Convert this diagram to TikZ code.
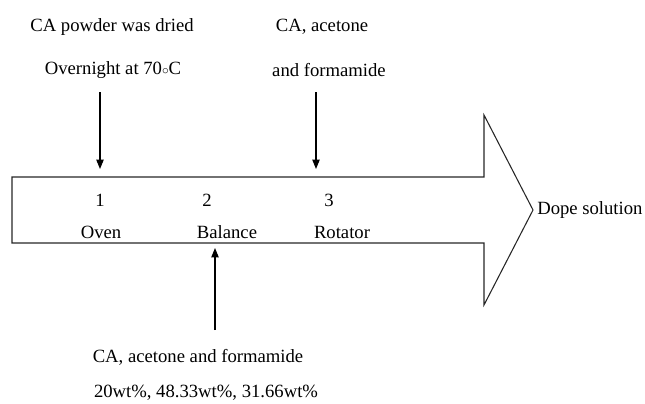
\documentclass[tikz,border=0pt]{standalone}
\usepackage{fontspec}
\setmainfont{Liberation Serif}
\usetikzlibrary{arrows.meta}
\tikzset{
  lbl/.style={font=\fontsize{14}{16}\selectfont, inner sep=0pt},
  feed/.style={-{Triangle[length=7pt,width=5.5pt]}, line width=0.8pt},
  outline/.style={draw=black!85, line width=0.8pt}
}
\begin{document}
\begin{tikzpicture}[x=0.75pt,y=-0.75pt]
	\useasboundingbox (0,0) rectangle (645,403);
	% freccia grande
	\draw[outline] (12,177) -- (484,177) -- (484,115) -- (533,210) -- (484,305) -- (484,243) -- (12,243) -- cycle;
	% testi sopra
	\node[lbl] (dryA) at (112,27) {CA powder was dried};
	\node[lbl] (dryB) at (113,70) {Overnight at 70{$\scriptstyle\circ$}C};
	\node[lbl] (mixA) at (322,27) {CA, acetone};
	\node[lbl] (mixB) at (329,70) {and formamide};
	% passi
	\node[lbl] (n1) at (100,200) {1};
	\node[lbl] (n2) at (207,200) {2};
	\node[lbl] (n3) at (329,200) {3};
	\node[lbl] (oven) at (101,232) {Oven};
	\node[lbl] (balance) at (227,232) {Balance};
	\node[lbl] (rotator) at (342,232) {Rotator};
	\node[lbl, anchor=west] (dope) at (537,210) {Dope solution};
	% testi sotto
	\node[lbl] (compA) at (198,357) {CA, acetone and formamide};
	\node[lbl] (compB) at (206,393) {20wt\%, 48.33wt\%, 31.66wt\%};
	% frecce
	\coordinate (ovenTop) at (100,92);
	\coordinate (ovenIn) at (100,169);
	\coordinate (rotTop) at (316,92);
	\coordinate (rotIn) at (316,169);
	\coordinate (balBot) at (215,330);
	\coordinate (balIn) at (215,248);
	\draw[feed] (ovenTop) -- (ovenIn);
	\draw[feed] (rotTop) -- (rotIn);
	\draw[feed] (balBot) -- (balIn);
\end{tikzpicture}
\end{document}
